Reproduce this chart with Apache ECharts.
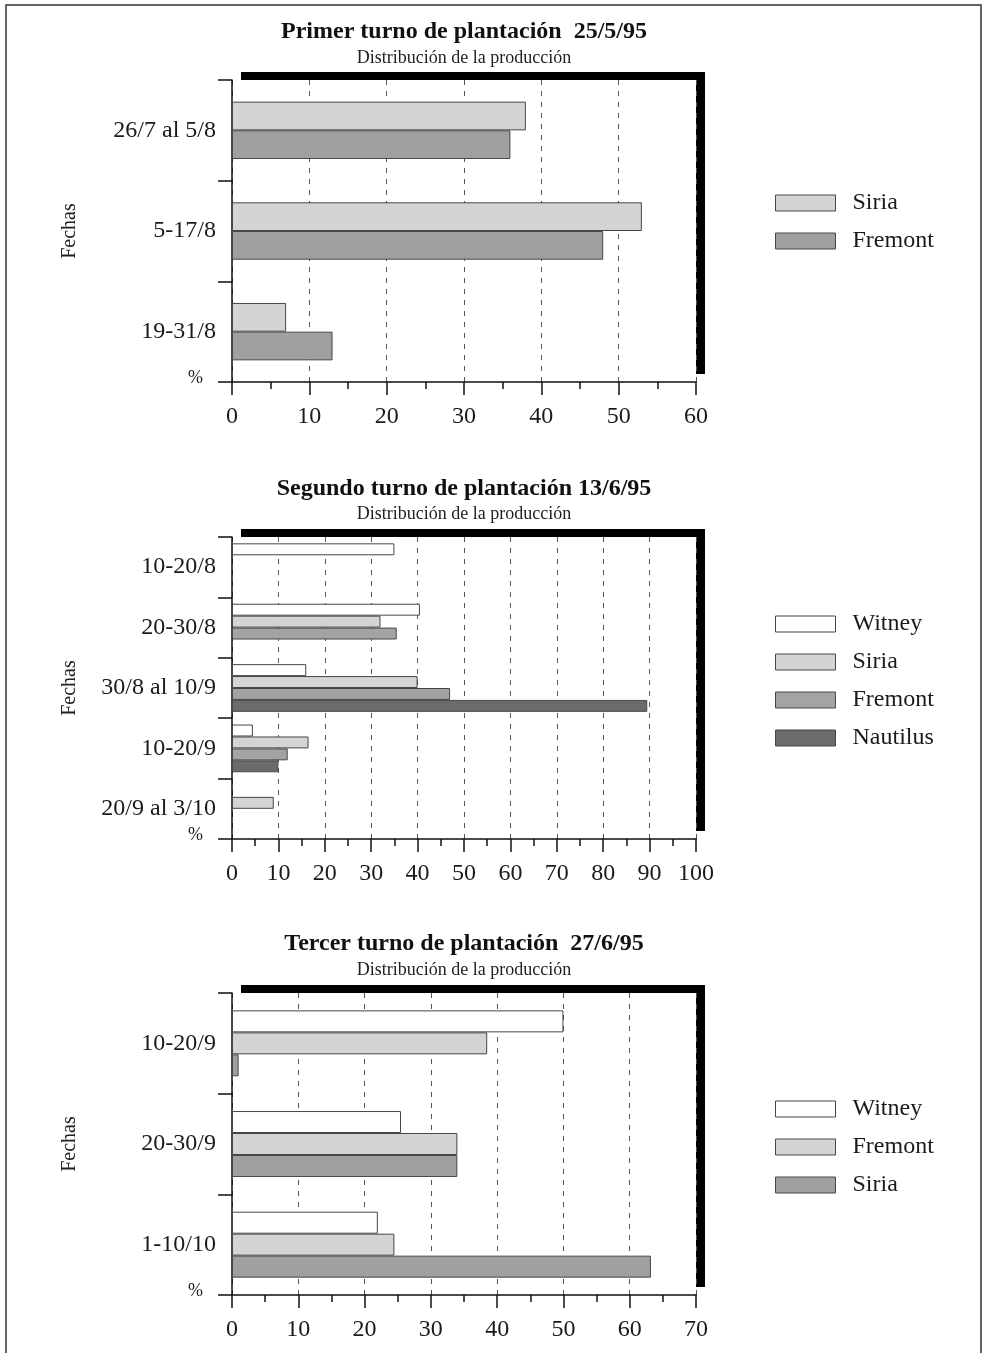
<!DOCTYPE html>
<html>
<head>
<meta charset="utf-8">
<script src="https://cdn.jsdelivr.net/npm/echarts@6/dist/echarts.min.js"></script>
<style>
html,body{margin:0;padding:0;background:#fff;}
#c{width:988px;height:1353px;}
</style>
</head>
<body>
<div id="c"></div>
<script>
// ---- Data ----
const titles = ['Primer turno de plantación  25/5/95', 'Segundo turno de plantación 13/6/95', 'Tercer turno de plantación  27/6/95'];
const subtitle = 'Distribución de la producción';

const cats1 = ['26/7 al 5/8', '5-17/8', '19-31/8'];
const siria1 = [38, 53, 7];
const fremont1 = [36, 48, 13];

const cats2 = ['10-20/8', '20-30/8', '30/8 al 10/9', '10-20/9', '20/9 al 3/10'];
const witney2 = [35, 40.5, 16, 4.5, null];
const siria2 = [null, 32, 40, 16.5, 9];
const fremont2 = [null, 35.5, 47, 12, null];
const nautilus2 = [null, null, 89.5, 10, null];

const cats3 = ['10-20/9', '20-30/9', '1-10/10'];
const witney3 = [50, 25.5, 22];
const fremont3 = [38.5, 34, 24.5];
const siria3 = [1, 34, 63.2];

const xMax = [60, 100, 70];
const xInterval = 10;

// ---- Styles ----
const SERIF = '"Liberation Serif", "DejaVu Serif", serif';
const C_WHITE = '#ffffff', C_LIGHT = '#d4d4d4', C_MID = '#a3a3a3', C_MID2 = '#a0a0a0', C_DARK = '#6b6b6b';
const BORDER = '#474747';

const gridTops = [80, 537, 993];
const gridH = 302;
const titleTops = [19, 476, 931];
const subGaps = [3, 2, 3];
const legendTops = [191, 612, 1097];

function grid(i) {
  return {
    left: 232, top: gridTops[i], width: 464, height: gridH,
    show: true, backgroundColor: '#fff', borderWidth: 0,
    shadowColor: '#000', shadowBlur: 0, shadowOffsetX: 9, shadowOffsetY: -8
  };
}
function xAxis(i) {
  return {
    type: 'value', gridIndex: i, min: 0, max: xMax[i], interval: xInterval,
    name: '%', nameLocation: 'start', nameGap: 29,
    nameTextStyle: { fontFamily: SERIF, fontSize: 18, color: '#222', verticalAlign: 'bottom', lineHeight: 8 },
    axisLine: { show: true, lineStyle: { color: '#111', width: 1.5 } },
    axisTick: { show: true, length: 13, lineStyle: { color: '#111', width: 1.5 } },
    minorTick: { show: true, splitNumber: 2, length: 7, lineStyle: { color: '#111', width: 1.5 } },
    axisLabel: { fontFamily: SERIF, fontSize: 24, color: '#1a1a1a', margin: 23 },
    splitLine: { show: true, lineStyle: { color: '#555', width: 1, type: [5, 6] } }
  };
}
function yAxis(i, cats) {
  return {
    type: 'category', gridIndex: i, data: cats, inverse: true,
    name: 'Fechas', nameLocation: 'middle', nameRotate: 90, nameGap: 152,
    nameTextStyle: { fontFamily: SERIF, fontSize: 20, color: '#222' },
    axisLine: { show: true, onZero: false, lineStyle: { color: '#111', width: 1.5 } },
    axisTick: { show: true, length: 14, lineStyle: { color: '#111', width: 1.5 } },
    axisLabel: { fontFamily: SERIF, fontSize: 24, color: '#1a1a1a', margin: 16 },
    splitLine: { show: false }
  };
}
function bar(i, name, data, color, gap) {
  return {
    type: 'bar', name: name, xAxisIndex: i, yAxisIndex: i, data: data,
    barGap: '0%', barCategoryGap: gap,
    itemStyle: { color: color, borderColor: BORDER, borderWidth: 1 },
    emphasis: { disabled: true }, animation: false
  };
}
function legend(i, names, colors) {
  return {
    orient: 'vertical', left: 775, top: legendTops[i], padding: 0,
    data: names.map((n, k) => ({ name: n, itemStyle: { color: colors[k], borderColor: BORDER, borderWidth: 1 } })),
    itemWidth: 60, itemHeight: 16, itemGap: 14,
    icon: 'rect', selectedMode: false,
    textStyle: { fontFamily: SERIF, fontSize: 24, color: '#1a1a1a', padding: [0, 0, 0, 12] }
  };
}
function title(i) {
  return {
    text: titles[i], subtext: subtitle, left: 464, top: titleTops[i], textAlign: 'center', padding: 0,
    itemGap: subGaps[i],
    textStyle: { fontFamily: SERIF, fontSize: 24, fontWeight: 'bold', color: '#111', lineHeight: 26 },
    subtextStyle: { fontFamily: SERIF, fontSize: 18, color: '#222', lineHeight: 20 }
  };
}

const chart = echarts.init(document.getElementById('c'), null, { renderer: 'canvas' });
chart.setOption({
  animation: false,
  backgroundColor: '#fff',
  title: [title(0), title(1), title(2)],
  grid: [grid(0), grid(1), grid(2)],
  xAxis: [xAxis(0), xAxis(1), xAxis(2)],
  yAxis: [yAxis(0, cats1), yAxis(1, cats2), yAxis(2, cats3)],
  legend: [
    legend(0, ['Siria', 'Fremont'], [C_LIGHT, C_MID2]),
    legend(1, ['Witney', 'Siria', 'Fremont', 'Nautilus'], [C_WHITE, C_LIGHT, C_MID, C_DARK]),
    legend(2, ['Witney', 'Fremont', 'Siria'], [C_WHITE, C_LIGHT, C_MID2])
  ],
  graphic: [{
    type: 'polyline', silent: true, z: 100,
    shape: { points: [[6, 1353], [6, 5], [981, 5], [981, 1353]] },
    style: { stroke: '#333', lineWidth: 1.5, fill: null }
  }],
  series: [
    bar(0, 'Siria', siria1, C_LIGHT, '43%'),
    bar(0, 'Fremont', fremont1, C_MID2, '43%'),
    bar(1, 'Witney', witney2, C_WHITE, '21%'),
    bar(1, 'Siria', siria2, C_LIGHT, '21%'),
    bar(1, 'Fremont', fremont2, C_MID, '21%'),
    bar(1, 'Nautilus', nautilus2, C_DARK, '21%'),
    bar(2, 'Witney', witney3, C_WHITE, '34.5%'),
    bar(2, 'Fremont', fremont3, C_LIGHT, '34.5%'),
    bar(2, 'Siria', siria3, C_MID2, '34.5%')
  ]
});
</script>
</body>
</html>
